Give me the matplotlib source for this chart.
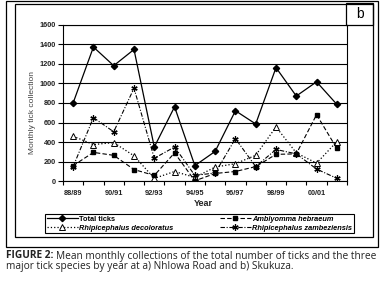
import matplotlib
matplotlib.use('Agg')
import matplotlib.pyplot as plt
from matplotlib.patches import Rectangle
import numpy as np

# Données (moyennes mensuelles par année, Skukuza)
years = ['88/89', '89/90', '90/91', '91/92', '92/93', '93/94', '94/95',
         '95/96', '96/97', '97/98', '98/99', '99/00', '00/01', '01/02']
total_ticks = [800, 1370, 1180, 1345, 350, 760, 160, 305, 720, 585, 1160, 870, 1015, 785]
a_hebraeum = [160, 295, 265, 120, 60, 290, 5, 80, 100, 150, 275, 280, 680, 335]
r_decoloratus = [460, 375, 395, 260, 30, 100, 40, 145, 180, 265, 555, 290, 185, 405]
r_zambeziensis = [150, 650, 505, 950, 235, 350, 60, 85, 435, 150, 325, 280, 125, 30]
y_ticks = [0, 200, 400, 600, 800, 1000, 1200, 1400, 1600]

W, H = 382, 282
fig = plt.figure(figsize=(W / 100, H / 100), dpi=100)
plt.rcParams['font.family'] = ['Liberation Sans', 'DejaVu Sans']


def fx(px):
    return px / W


def fy(py):
    return 1 - py / H


# Cadres (image + zone du graphique)
fig.patches.append(Rectangle((fx(6), fy(247)), fx(372), 246 / H, fill=False,
                             edgecolor='black', lw=0.9, transform=fig.transFigure))
fig.patches.append(Rectangle((fx(15), fy(236.5)), fx(358), 233 / H, fill=False,
                             edgecolor='black', lw=0.9, transform=fig.transFigure))
# Case "b"
fig.patches.append(Rectangle((fx(346), fy(25)), fx(27), 22 / H, fill=False,
                             edgecolor='black', lw=0.9, transform=fig.transFigure))
fig.text(fx(359.5), fy(14), 'b', ha='center', va='center', fontsize=10)

ax = fig.add_axes([fx(63), fy(181.3), fx(284), (181.3 - 24.5) / H])
x = np.arange(len(years))

ax.plot(x, total_ticks, '-', color='black', lw=0.9, marker='D', ms=3.2,
        mfc='black', mec='black', label='Total ticks', zorder=5)
ax.plot(x, r_decoloratus, ':', color='black', lw=0.9, marker='^', ms=4,
        mfc='white', mec='black', mew=0.7, label='Rhipicephalus decoloratus', zorder=4)
ax.plot(x, a_hebraeum, '--', color='black', lw=0.8, dashes=(4, 2), marker='s', ms=3.2,
        mfc='black', mec='black', label='Amblyomma hebraeum', zorder=4)
ax.plot(x, r_zambeziensis, '-.', color='black', lw=0.8, dashes=(4, 1.5, 1, 1.5),
        marker=(6, 2, 0), ms=4.5, mew=0.9, mec='black',
        label='Rhipicephalus zambeziensis', zorder=4)

ax.set_xlim(-0.5, len(years) - 0.5)
ax.set_ylim(0, 1600)
ax.set_yticks(y_ticks)
ax.yaxis.grid(True, color='black', lw=0.8)
ax.set_axisbelow(True)

# graduations aux limites des catégories, étiquettes une année sur deux
ax.set_xticks(np.arange(-0.5, len(years), 1.0))
ax.set_xticklabels([])
ax.set_xticks(x[::2], minor=True)
ax.set_xticklabels(years[::2], minor=True, fontweight='bold')
ax.tick_params(axis='x', which='major', direction='out', length=3, width=0.8)
ax.tick_params(axis='x', which='minor', length=0, pad=6, labelsize=5.3, labelcolor='#222222')
ax.tick_params(axis='y', direction='out', length=3.5, width=0.8, pad=1.5,
               labelsize=5.3, labelcolor='#222222')
for lab in ax.get_yticklabels():
    lab.set_fontweight('bold')

for s in ['left', 'bottom', 'right', 'top']:
    ax.spines[s].set_linewidth(0.8)
    ax.spines[s].set_color('black')

fig.text(fx(203), fy(204), 'Year', ha='center', va='center', fontsize=6.5,
         fontweight='bold', color='#222222')
fig.text(fx(33), fy(112), 'Monthly tick collection', rotation=90, ha='center',
         va='center', fontsize=6, color='#444444')

handles, labels = ax.get_legend_handles_labels()
leg = fig.legend(handles, labels, ncol=2, loc='center',
                 bbox_to_anchor=(fx(45), fy(233), fx(309), 19 / H), mode='expand',
                 borderaxespad=0, fontsize=5.3, handlelength=4.2, handletextpad=0.2,
                 borderpad=0.25, labelspacing=0.25, columnspacing=1.0,
                 frameon=True, fancybox=False, edgecolor='black', framealpha=1)
leg.get_frame().set_linewidth(0.8)
for t in leg.get_texts():
    t.set_fontweight('bold')
    if t.get_text() != 'Total ticks':
        t.set_style('italic')

# Légende de la figure : partie en gras puis texte normal juste après
cap_kw = dict(ha='left', va='center', fontsize=7.3, color='#222222', family='Open Sans')
t_bold = fig.text(fx(6), fy(256), 'FIGURE 2:', fontweight='bold', **cap_kw)
fig.canvas.draw()
bb = t_bold.get_window_extent().transformed(fig.transFigure.inverted())
fig.text(bb.x1 + fx(3), fy(256),
         'Mean monthly collections of the total number of ticks and the three', **cap_kw)
fig.text(fx(6), fy(267), 'major tick species by year at a) Nhlowa Road and b) Skukuza.', **cap_kw)

fig.savefig('out.png', dpi=100)
